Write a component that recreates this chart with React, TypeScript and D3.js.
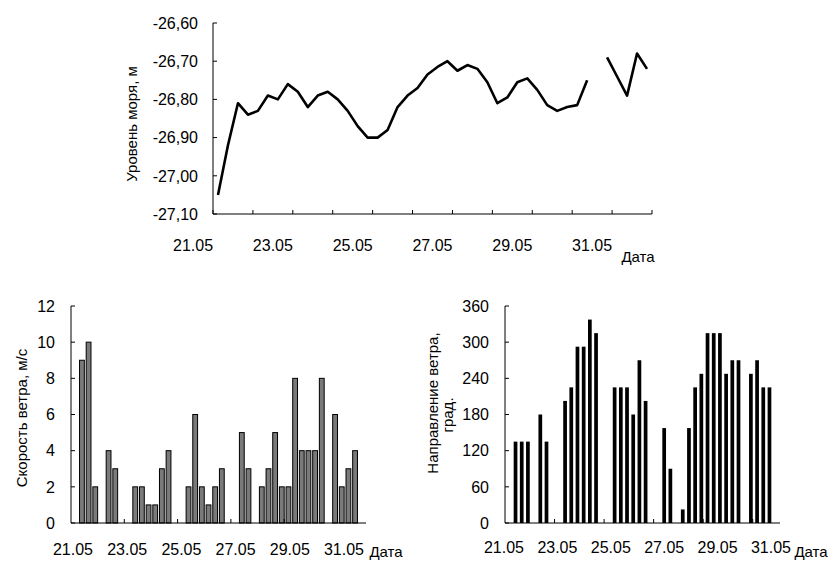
import React from 'react';
import * as d3 from 'd3';

// sea level, 6-hourly, null = no observation
const seaLevel: (number | null)[] = [
  -27.05, -26.92, -26.81, -26.84, -26.83, -26.79, -26.80, -26.76, -26.78, -26.82,
  -26.79, -26.78, -26.80, -26.83, -26.87, -26.90, -26.90, -26.88, -26.82, -26.79,
  -26.77, -26.735, -26.715, -26.70, -26.725, -26.71, -26.72, -26.755, -26.81, -26.795,
  -26.755, -26.745, -26.775, -26.815, -26.83, -26.82, -26.815, -26.75, null, -26.69,
  -26.74, -26.79, -26.68, -26.72,
];

// wind speed, m/s
const windSpeed: (number | null)[] = [
  null, 9, 10, 2, null, 4, 3, null, null, 2,
  2, 1, 1, 3, 4, null, null, 2, 6, 2,
  1, 2, 3, null, null, 5, 3, null, 2, 3,
  5, 2, 2, 8, 4, 4, 4, 8, null, 6,
  2, 3, 4, null,
];

// wind direction, degrees
const windDir: (number | null)[] = [
  null, 135, 135, 135, null, 180, 135, null, null, 202.5,
  225, 292.5, 292.5, 337.5, 315, null, null, 225, 225, 225,
  180, 270, 202.5, null, null, 157.5, 90, null, 22.5, 157.5,
  225, 247.5, 315, 315, 315, 247.5, 270, 270, null, 247.5,
  270, 225, 225, null,
];

const dateLabels = ['21.05', '23.05', '25.05', '27.05', '29.05', '31.05'];
const levelTicks = [-26.6, -26.7, -26.8, -26.9, -27.0, -27.1];
const speedTicks = [0, 2, 4, 6, 8, 10, 12];
const dirTicks = [0, 60, 120, 180, 240, 300, 360];

const FONT = '"Liberation Sans", Arial, sans-serif';
const idx = d3.range(seaLevel.length);

const fmtLevel = (v: number) => v.toFixed(2).replace('.', ',');

function TopChart() {
  const x = d3.scaleBand<number>().domain(idx).range([213, 652]);
  const y = d3.scaleLinear().domain([-27.1, -26.6]).range([214, 23]);
  const step = x.step();
  const cx = (i: number) => (x(i) as number) + x.bandwidth() / 2;
  const line = d3.line<number | null>()
    .defined(d => d != null)
    .x((_, i) => cx(i))
    .y(d => y(d as number));
  const labelAt = [-2, 6, 14, 22, 30, 38];
  const tickAt = d3.range(0, seaLevel.length + 1, 4);
  return (
    <g>
      <path d={line(seaLevel) || ''} fill="none" stroke="#000" strokeWidth={2.6} strokeLinejoin="round" />
      <line x1={213} x2={213} y1={y(-26.6)} y2={y(-27.1)} stroke="#000" />
      <line x1={213} x2={652} y1={y(-27.1)} y2={y(-27.1)} stroke="#000" />
      {levelTicks.map(t => (
        <g key={t}>
          <line x1={213} x2={217} y1={y(t)} y2={y(t)} stroke="#000" />
          <text x={198} y={y(t)} dy="0.36em" textAnchor="end" fontSize={16}>{fmtLevel(t)}</text>
        </g>
      ))}
      {tickAt.map(b => (
        <line key={b} x1={213 + b * step} x2={213 + b * step} y1={214} y2={210} stroke="#000" />
      ))}
      {dateLabels.map((l, k) => (
        <text key={l} x={213 + labelAt[k] * step} y={251} textAnchor="middle" fontSize={16}>{l}</text>
      ))}
      <text x={638} y={262} textAnchor="middle" fontSize={15}>Дата</text>
      <text transform="translate(137,124) rotate(-90)" textAnchor="middle" fontSize={15}>Уровень моря, м</text>
    </g>
  );
}

function BarChart({ values, x0, x1, domainMax, ticks, fill, stroke, pad, labelOff, labelSpan, labelY, dateX, title }: any) {
  const x = d3.scaleBand<number>().domain(idx).range([x0, x1]).padding(pad);
  const y = d3.scaleLinear().domain([0, domainMax]).range([523, 306]);
  const step = x.step();
  const lx = d3.scalePoint<string>().domain(dateLabels).range([x0 + labelOff, x0 + labelOff + labelSpan]);
  const tickAt = d3.range(8, values.length, 8);
  return (
    <g>
      {values.map((v: number | null, i: number) => v == null ? null : (
        <rect key={i} x={x(i)} y={y(v)} width={x.bandwidth()} height={y(0) - y(v)}
          fill={fill} stroke={stroke} strokeWidth={stroke === 'none' ? 0 : 1} />
      ))}
      <line x1={x0} x2={x0} y1={306} y2={523} stroke="#000" />
      <line x1={x0} x2={x1} y1={523} y2={523} stroke="#000" />
      {ticks.map((t: number) => (
        <g key={t}>
          <line x1={x0} x2={x0 + 4} y1={y(t)} y2={y(t)} stroke="#000" />
          <text x={x0 - 16} y={y(t)} dy="0.36em" textAnchor="end" fontSize={16}>{t}</text>
        </g>
      ))}
      {tickAt.map((b: number) => (
        <line key={b} x1={x0 + b * step} x2={x0 + b * step} y1={523} y2={519} stroke="#000" />
      ))}
      {dateLabels.map(l => (
        <text key={l} x={lx(l)} y={labelY} textAnchor="middle" fontSize={16}>{l}</text>
      ))}
      <text x={dateX} y={557} textAnchor="middle" fontSize={15}>Дата</text>
      {title}
    </g>
  );
}

export default function App() {
  return (
    <svg width={829} height={565} style={{ position: 'absolute', left: 0, top: 0, background: '#fff' }}
      fontFamily={FONT} fill="#000">
      <TopChart />
      <BarChart values={windSpeed} x0={71} x1={366} domainMax={12} ticks={speedTicks}
        fill="#7a7a7a" stroke="#000" pad={0.28} labelOff={2} labelSpan={271} labelY={555} dateX={386}
        title={<text transform="translate(27,418) rotate(-90)" textAnchor="middle" fontSize={15}>Скорость ветра, м/с</text>} />
      <BarChart values={windDir} x0={505} x1={780} domainMax={360} ticks={dirTicks}
        fill="#000" stroke="none" pad={0.4} labelOff={-1} labelSpan={267} labelY={553} dateX={811}
        title={<g>
          <text transform="translate(438,403) rotate(-90)" textAnchor="middle" fontSize={15}>Направление ветра,</text>
          <text transform="translate(453,415) rotate(-90)" textAnchor="middle" fontSize={15}>град.</text>
        </g>} />
    </svg>
  );
}
